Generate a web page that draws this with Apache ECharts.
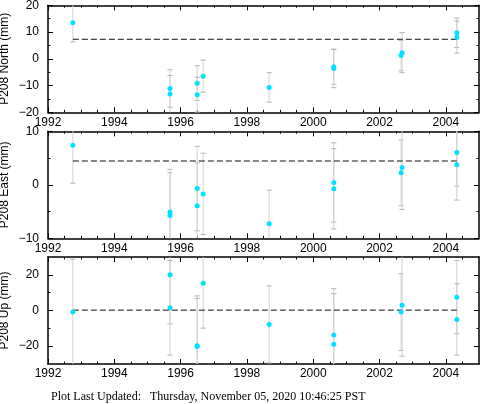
<!DOCTYPE html>
<html>
<head>
<meta charset="utf-8">
<script src="https://cdn.jsdelivr.net/npm/echarts@6/dist/echarts.min.js"></script>
<style>
html,body{margin:0;padding:0;background:#fff;}
#c{width:481px;height:404px;}
</style>
</head>
<body>
<div id="c"></div>
<script>
// ---- data ----
const years = [1992.75, 1995.68, 1995.68, 1996.50, 1996.50, 1996.68, 1998.67, 2000.62, 2000.62, 2002.65, 2002.68, 2004.33, 2004.33];
const north    = [13.5, -11.1, -13.2, -9.1, -13.4, -6.5, -10.7, -3.0, -3.6, 1.2, 2.3, 9.7, 8.1];
const northErr = [7.2, 7.0, 7.0, 6.5, 6.5, 6.0, 5.5, 6.5, 7.2, 5.7, 7.5, 5.5, 6.0];
const east     = [7.4, -5.1, -5.75, -0.7, -3.9, -1.7, -7.3, 0.45, -0.75, 2.25, 3.25, 6.05, 3.75];
const eastErr  = [7.1, 8.0, 8.0, 7.9, 8.0, 7.6, 6.3, 7.4, 7.5, 6.15, 7.85, 6.3, 6.6];
const up       = [-0.9, 20.0, 1.5, -19.8, -20.2, 15.3, -7.8, -13.8, -18.9, -0.9, 3.0, 7.5, -5.0];
const upErr    = [29.7, 27.5, 26.5, 28.0, 27.0, 25.2, 21.6, 26.0, 28.3, 21.5, 28.6, 20.5, 20.0];
const means    = [7.3, 4.45, 0.2];
const panelNames = ['P208 North (mm)', 'P208 East (mm)', 'P208 Up (mm)'];
const xMajorTicks = [1992, 1994, 1996, 1998, 2000, 2002, 2004];
const xMinorTicks = [1992.5, 1993, 1993.5, 1994.5, 1995, 1995.5, 1996.5, 1997, 1997.5, 1998.5, 1999, 1999.5, 2000.5, 2001, 2001.5, 2002.5, 2003, 2003.5, 2004.5];
const yRanges = [[-20, 20], [-10, 10], [-30, 30]];
const yMajorTicks = [[-20, -10, 0, 10, 20], [-10, 0, 10], [-20, 0, 20]];
const yMinorTicks = [[-15, -5, 5, 15], [-5, 5], [-10, 10]];
const footer = 'Plot Last Updated:   Thursday, November 05, 2020 10:46:25 PST';

// ---- layout ----
const panelTops = [5.3, 131.3, 257];
const panelH = 107;
const values = [north, east, up];
const errs = [northErr, eastErr, upErr];

const FONT = 'Liberation Sans, Arial, Helvetica, sans-serif';
const lineStyle = {color: '#000', width: 1.5};
const minus = v => String(v).replace('-', '\u2212');
const plain = v => String(v);

const grid = [], xAxis = [], yAxis = [], series = [];
for (let i = 0; i < 3; i++) {
  grid.push({left: 48, right: 2, top: panelTops[i], height: panelH, containLabel: false, outerBoundsMode: 'none'});
  const xbase = {type: 'value', gridIndex: i, min: 1992, max: 2005, splitLine: {show: false}};
  // bottom major (with labels)
  xAxis.push(Object.assign({}, xbase, {
    position: 'bottom',
    axisLine: {show: true, onZero: false, lineStyle},
    axisTick: {show: true, inside: true, length: 5, customValues: xMajorTicks, lineStyle: {color: '#000', width: 1}},
    axisLabel: {show: true, customValues: xMajorTicks, margin: 4, color: '#000', fontSize: 12, fontFamily: FONT, formatter: plain}
  }));
  // bottom minor
  xAxis.push(Object.assign({}, xbase, {
    position: 'bottom',
    axisLine: {show: false, onZero: false},
    axisTick: {show: true, inside: true, length: 2.5, customValues: xMinorTicks, lineStyle: {color: '#000', width: 1}},
    axisLabel: {show: false}
  }));
  // top major
  xAxis.push(Object.assign({}, xbase, {
    position: 'top',
    axisLine: {show: true, onZero: false, lineStyle},
    axisTick: {show: true, inside: true, length: 5, customValues: xMajorTicks, lineStyle: {color: '#000', width: 1}},
    axisLabel: {show: false}
  }));
  // top minor
  xAxis.push(Object.assign({}, xbase, {
    position: 'top',
    axisLine: {show: false, onZero: false},
    axisTick: {show: true, inside: true, length: 2.5, customValues: xMinorTicks, lineStyle: {color: '#000', width: 1}},
    axisLabel: {show: false}
  }));

  const ybase = {type: 'value', gridIndex: i, min: yRanges[i][0], max: yRanges[i][1], splitLine: {show: false}};
  yAxis.push(Object.assign({}, ybase, {
    position: 'left',
    name: panelNames[i], nameLocation: 'middle', nameGap: 37, nameMoveOverlap: false,
    nameTextStyle: {color: '#000', fontSize: 12, fontFamily: FONT},
    axisLine: {show: true, onZero: false, lineStyle},
    axisTick: {show: true, inside: true, length: 5, customValues: yMajorTicks[i], lineStyle: {color: '#000', width: 1}},
    axisLabel: {show: true, customValues: yMajorTicks[i], margin: 9, color: '#000', fontSize: 12, fontFamily: FONT, formatter: minus}
  }));
  yAxis.push(Object.assign({}, ybase, {
    position: 'left',
    axisLine: {show: false, onZero: false},
    axisTick: {show: true, inside: true, length: 2.5, customValues: yMinorTicks[i], lineStyle: {color: '#000', width: 1}},
    axisLabel: {show: false}
  }));
  yAxis.push(Object.assign({}, ybase, {
    position: 'right',
    axisLine: {show: true, onZero: false, lineStyle},
    axisTick: {show: true, inside: true, length: 5, customValues: yMajorTicks[i], lineStyle: {color: '#000', width: 1}},
    axisLabel: {show: false}
  }));
  yAxis.push(Object.assign({}, ybase, {
    position: 'right',
    axisLine: {show: false, onZero: false},
    axisTick: {show: true, inside: true, length: 2.5, customValues: yMinorTicks[i], lineStyle: {color: '#000', width: 1}},
    axisLabel: {show: false}
  }));

  const xi = 4 * i, yi = 4 * i;
  // error bars
  series.push({
    type: 'custom', xAxisIndex: xi, yAxisIndex: yi, z: 2, silent: true,
    encode: {x: 0, y: 1},
    data: years.map((t, k) => [t, values[i][k], errs[i][k]]),
    renderItem: function (params, api) {
      const x = api.value(0), y = api.value(1), e = api.value(2);
      const cs = params.coordSys;
      const px = api.coord([x, y])[0];
      const top = api.coord([x, y + e])[1];
      const bot = api.coord([x, y - e])[1];
      const yMin = cs.y, yMax = cs.y + cs.height;
      const t = Math.max(top, yMin), b = Math.min(bot, yMax);
      const children = [{type: 'line', shape: {x1: px, y1: t, x2: px, y2: b}, style: {stroke: '#d2d2d2', lineWidth: 1}}];
      const hw = 2.6;
      if (top >= yMin) children.push({type: 'line', shape: {x1: px - hw, y1: top, x2: px + hw, y2: top}, style: {stroke: '#b4b4b4', lineWidth: 1}});
      if (bot <= yMax) children.push({type: 'line', shape: {x1: px - hw, y1: bot, x2: px + hw, y2: bot}, style: {stroke: '#b4b4b4', lineWidth: 1}});
      return {type: 'group', children: children};
    }
  });
  // mean dashed line
  series.push({
    type: 'line', xAxisIndex: xi, yAxisIndex: yi, z: 3, silent: true,
    symbol: 'none',
    data: [[years[0], means[i]], [years[years.length - 1], means[i]]],
    lineStyle: {color: '#111', width: 1, type: [6, 3]}
  });
  // points
  series.push({
    type: 'scatter', xAxisIndex: xi, yAxisIndex: yi, z: 4, silent: true,
    symbol: 'circle', symbolSize: 5,
    itemStyle: {color: '#00e0ff', opacity: 1},
    data: years.map((t, k) => [t, values[i][k]])
  });
}

const chart = echarts.init(document.getElementById('c'), null, {renderer: 'canvas'});
chart.setOption({
  animation: false,
  backgroundColor: '#fff',
  grid, xAxis, yAxis, series,
  graphic: [{
    type: 'text', left: 51, top: 391,
    style: {text: footer, fill: '#000', font: '12px "Liberation Serif", "Times New Roman", serif'}
  }]
});
</script>
</body>
</html>
